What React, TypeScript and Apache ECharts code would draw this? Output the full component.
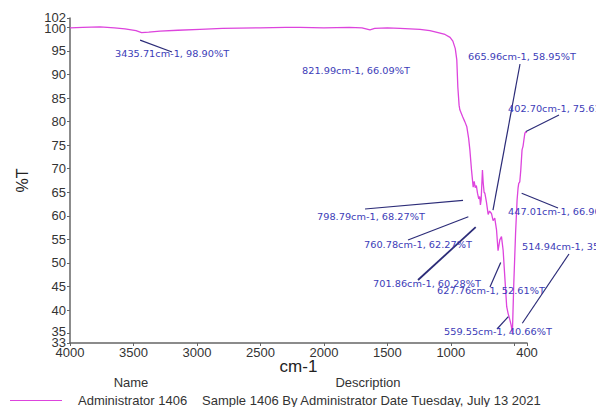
import React, { useEffect, useRef } from "react";
import * as echarts from "echarts";

// Spectrum (wavenumber in cm-1, transmittance in %T)
const wavenumbers = [
  4000, 3900, 3764, 3650, 3567, 3480, 3436, 3380, 3291, 3150, 2976, 2800, 2503, 2300, 2188, 2000,
  1800, 1700, 1637, 1600, 1500, 1400, 1243, 1165, 1100, 1046, 1006, 984, 965, 953, 945, 935, 929,
  906, 890, 874, 860, 850, 837, 824, 816, 808, 799, 790, 780, 772, 767, 761, 751, 745, 738, 732,
  720, 706, 695, 680, 667, 654, 640, 628, 614, 601, 588, 575, 560, 549, 535, 525, 515, 510, 504,
  497, 490, 478, 470, 465, 457, 449, 439, 431, 425, 417, 409, 403,
];
const transmittance = [
  99.9, 100.0, 100.1, 99.9, 99.7, 99.3, 98.9, 99.0, 99.2, 99.4, 99.6, 99.8, 99.9, 100.0, 100.0, 99.9,
  100.0, 99.9, 99.5, 99.8, 99.9, 99.8, 99.6, 99.3, 98.9, 98.5, 97.9, 97.1, 95.5, 93.1, 87.4, 83.5, 82.5,
  81.0, 80.0, 78.9, 76.5, 74.0, 69.7, 66.1, 67.3, 66.0, 66.4, 64.8, 63.6, 64.1, 62.3, 63.5, 69.7, 67.0, 65.0, 64.8,
  63.0, 60.3, 61.0, 60.5, 59.0, 59.5, 57.0, 52.6, 54.9, 55.6, 52.7, 47.1, 40.7, 39.3, 37.9, 36.8, 35.1, 40.0, 45.7,
  51.0, 56.3, 63.4, 66.0, 66.9, 67.2, 69.7, 74.0, 74.8, 76.0, 77.5, 77.9, 77.6,
];

const xTickValues = [4000, 3500, 3000, 2500, 2000, 1500, 1000, 500, 400];
const xLabelValues = [4000, 3500, 3000, 2500, 2000, 1500, 1000, 400];
const yLabelValues = [35, 40, 45, 50, 55, 60, 65, 70, 75, 80, 85, 90, 95, 100];
const yEndLabelValues = [33, 102];

// Peak annotations
const peakLabels = [
  "3435.71cm-1, 98.90%T",
  "821.99cm-1, 66.09%T",
  "665.96cm-1, 58.95%T",
  "402.70cm-1, 75.61%T",
  "798.79cm-1, 68.27%T",
  "760.78cm-1, 62.27%T",
  "701.86cm-1, 60.28%T",
  "627.76cm-1, 52.61%T",
  "447.01cm-1, 66.90%T",
  "514.94cm-1, 35.15%T",
  "559.55cm-1, 40.66%T",
];
// leader-line tips in data units (null = no leader line)
const tipWn: (number | null)[] = [3448, null, 668, 408, 904, 862, 804, 607, 442, 437, 547];
const tipT: (number | null)[] = [97.3, null, 61.2, 77.9, 63.3, 59.8, 57.6, 50.1, 64.8, 37.2, 38.6];

// layout of annotation labels (pixels)
const labelX = [115, 302, 468, 508, 317, 364, 373, 437, 508, 522, 444];
const labelY = [54, 71, 57, 109, 217, 245, 284, 291, 212, 247, 332];
const lineFromX = [172, 0, 520, 559, 365, 408, 418, 490, 558, 569, 497];
const lineFromY = [52, 0, 64, 115, 209, 240, 280, 287, 208, 254, 329];
const lineWidths = [1.2, 0, 1.2, 1.2, 1.2, 1.2, 1.8, 1.2, 1.2, 1.2, 1.2];

const LINE_COLOR = "#dd44dd";
const ANNOT_COLOR = "#3c3cb8";
const LEADER_COLOR = "#2c2c78";
const FONT = "Liberation Sans, Arial, sans-serif";

export default function App() {
  const ref = useRef<HTMLDivElement>(null);

  useEffect(() => {
    if (!ref.current) return;
    const chart = echarts.init(ref.current, null, { renderer: "svg" });
    const seriesData = wavenumbers.map((w, i) => [w, transmittance[i]]);

    const richBase = { fontSize: 13, lineHeight: 10, color: "#333", fontFamily: FONT };
    const yRich = {
      up1: { ...richBase, padding: [0, 0, 2, 0] },
      up2: { ...richBase, padding: [0, 0, 4, 0] },
      down: { ...richBase, padding: [3, 0, 0, 0] },
    };
    const yLabelStyle = {
      fontSize: 13,
      lineHeight: 10,
      color: "#333",
      margin: 4,
      fontFamily: FONT,
      rich: yRich,
    };

    chart.setOption({
      animation: false,
      backgroundColor: "#ffffff",
      grid: { left: 70, right: 69, top: 18, bottom: 64 },
      xAxis: {
        type: "value",
        min: 400,
        max: 4000,
        inverse: true,
        name: "cm-1",
        nameLocation: "middle",
        nameGap: 15,
        nameMoveOverlap: false,
        nameTextStyle: { fontSize: 17, color: "#222", fontFamily: FONT },
        splitLine: { show: false },
        axisLine: { show: true, onZero: false, lineStyle: { color: "#666", width: 1.5 } },
        axisTick: { show: true, customValues: xTickValues, length: 3, lineStyle: { color: "#666" } },
        axisLabel: {
          customValues: xLabelValues,
          formatter: (v: number) => String(v),
          showMinLabel: true,
          showMaxLabel: true,
          fontSize: 13,
          color: "#333",
          margin: 3,
          fontFamily: FONT,
        },
      },
      yAxis: [
        {
          type: "value",
          position: "left",
          min: 33,
          max: 102,
          name: "%T",
          nameLocation: "middle",
          nameGap: 40,
          nameMoveOverlap: false,
          nameTextStyle: { fontSize: 16, color: "#222", fontFamily: FONT },
          splitLine: { show: false },
          axisLine: { show: true, onZero: false, lineStyle: { color: "#666", width: 1.5 } },
          axisTick: { show: true, customValues: yLabelValues, length: 3, lineStyle: { color: "#666" } },
          axisLabel: {
            ...yLabelStyle,
            customValues: yLabelValues,
            showMinLabel: true,
            showMaxLabel: true,
            formatter: (v: number) =>
              v === 100 ? "{down|100}" : v === 35 ? "{up2|35}" : String(v),
          },
        },
        {
          type: "value",
          position: "left",
          offset: 0,
          min: 33,
          max: 102,
          splitLine: { show: false },
          axisLine: { show: false, onZero: false },
          axisTick: { show: true, customValues: yEndLabelValues, length: 3, lineStyle: { color: "#666" } },
          axisLabel: {
            ...yLabelStyle,
            customValues: yEndLabelValues,
            showMinLabel: true,
            showMaxLabel: true,
            formatter: (v: number) => "{up1|" + String(v) + "}",
          },
        },
      ],
      series: [
        {
          type: "line",
          data: seriesData,
          showSymbol: false,
          symbol: "none",
          lineStyle: { color: LINE_COLOR, width: 1.3 },
          itemStyle: { color: LINE_COLOR },
        },
      ],
    });

    const graphics: any[] = [];
    peakLabels.forEach((txt, i) => {
      graphics.push({
        type: "text",
        x: labelX[i],
        y: labelY[i],
        scaleX: 1.22,
        z: 10,
        style: {
          text: txt,
          fontSize: 8,
          fontFamily: "DejaVu Sans, sans-serif",
          fill: ANNOT_COLOR,
          align: "left",
          verticalAlign: "middle",
          textAlign: "left",
          textVerticalAlign: "middle",
        },
      });
      const w = tipWn[i];
      const t = tipT[i];
      if (w !== null && t !== null) {
        const p = chart.convertToPixel({ xAxisIndex: 0, yAxisIndex: 0 }, [w, t]) as number[];
        graphics.push({
          type: "line",
          z: 9,
          shape: { x1: lineFromX[i], y1: lineFromY[i], x2: p[0], y2: p[1] },
          style: { stroke: LEADER_COLOR, lineWidth: lineWidths[i] },
        });
      }
    });

    // legend / description area
    graphics.push(
      {
        type: "text",
        x: 131,
        y: 382,
        style: { text: "Name", fontSize: 13, fontFamily: FONT, fill: "#333", align: "center", verticalAlign: "middle", textAlign: "center", textVerticalAlign: "middle" },
      },
      {
        type: "text",
        x: 368,
        y: 382,
        style: { text: "Description", fontSize: 13, fontFamily: FONT, fill: "#333", align: "center", verticalAlign: "middle", textAlign: "center", textVerticalAlign: "middle" },
      },
      {
        type: "line",
        shape: { x1: 10, y1: 400.5, x2: 62, y2: 400.5 },
        style: { stroke: LINE_COLOR, lineWidth: 1.2 },
      },
      {
        type: "text",
        x: 78,
        y: 400,
        style: { text: "Administrator 1406", fontSize: 13, fontFamily: FONT, fill: "#333", align: "left", verticalAlign: "middle", textAlign: "left", textVerticalAlign: "middle" },
      },
      {
        type: "text",
        x: 202,
        y: 400,
        style: {
          text: "Sample 1406 By Administrator Date Tuesday, July 13 2021",
          fontSize: 13,
          fontFamily: FONT,
          fill: "#333",
          align: "left",
          verticalAlign: "middle",
          textAlign: "left",
          textVerticalAlign: "middle",
        },
      }
    );

    chart.setOption({ graphic: graphics });

    return () => chart.dispose();
  }, []);

  return (
    <div
      ref={ref}
      style={{ position: "fixed", left: 0, top: 0, width: 596, height: 407, background: "#fff" }}
    />
  );
}
